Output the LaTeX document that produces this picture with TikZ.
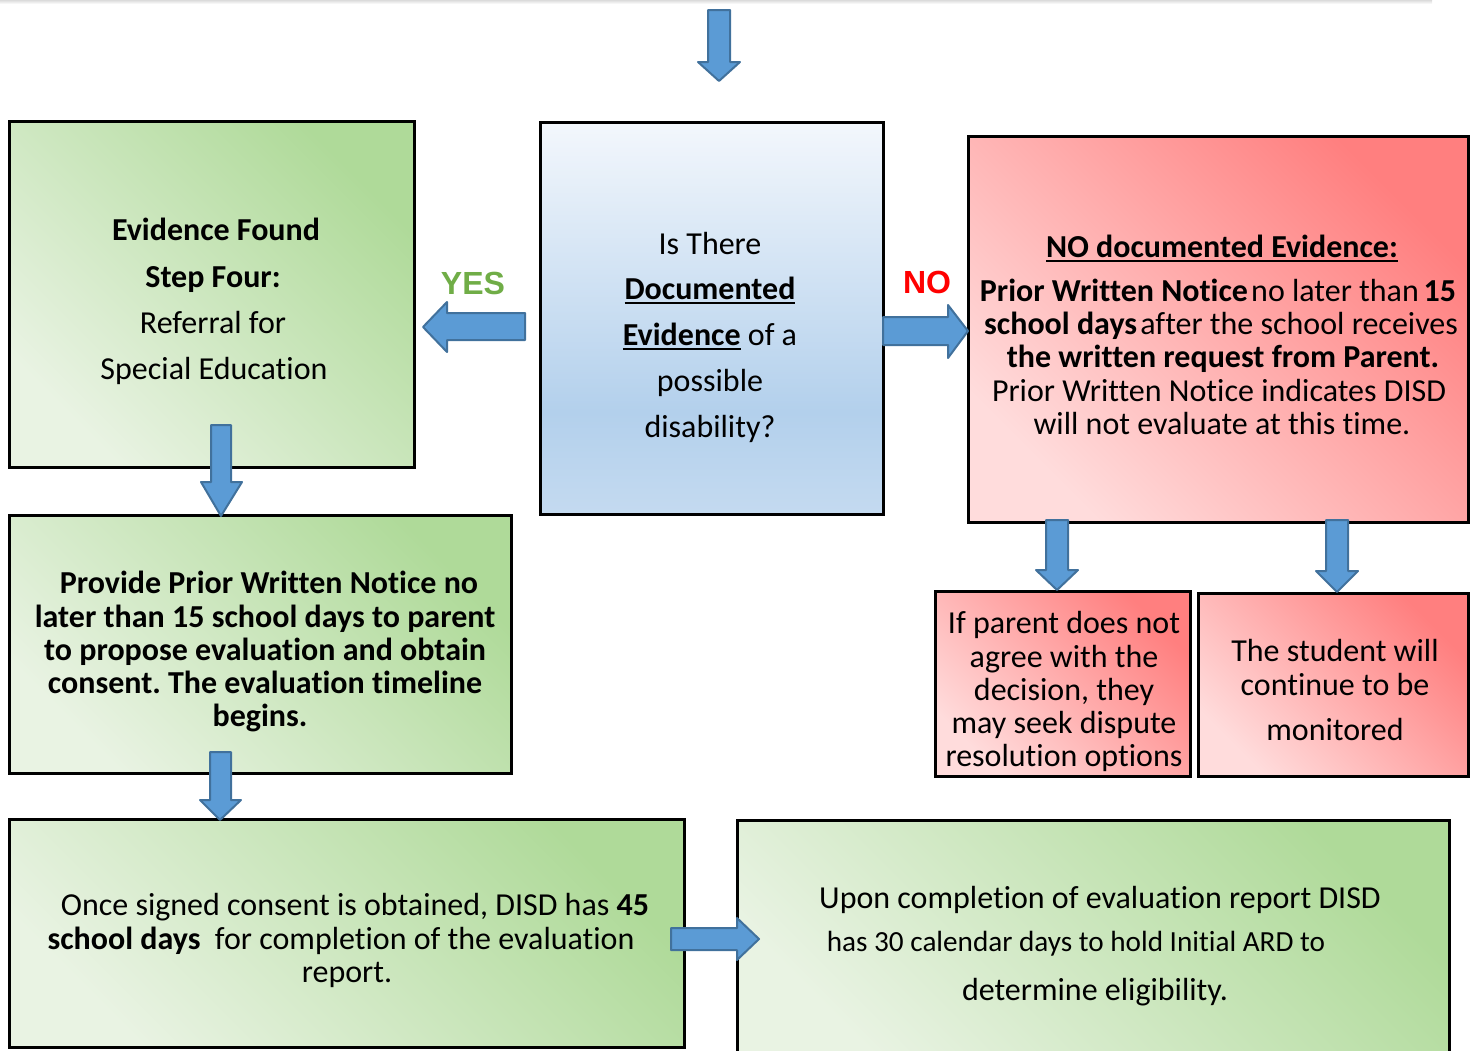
\documentclass[tikz,border=0pt]{standalone}
\usepackage{fontspec}
\setmainfont[Ligatures={NoCommon}]{Carlito}
\newfontfamily\labfont{Liberation Sans}
\frenchspacing
\usetikzlibrary{fit}
\definecolor{gLight}{HTML}{E9F3E3}
\definecolor{gDark}{HTML}{AFDA99}
\definecolor{rLight}{HTML}{FFDCDC}
\definecolor{rDark}{HTML}{FF7F7F}
\definecolor{bTop}{HTML}{F3F7FC}
\definecolor{bMid}{HTML}{B3D0EC}
\definecolor{bBot}{HTML}{C4DAF0}
\definecolor{arrowBlue}{HTML}{5B9BD5}
\definecolor{arrowEdge}{HTML}{41719C}
\definecolor{yesGreen}{HTML}{70AD47}
\definecolor{noRed}{HTML}{FF0000}
\pgfdeclareverticalshading{blueshade}{100bp}{color(0bp)=(bBot);color(25bp)=(bBot);color(38bp)=(bMid);color(75bp)=(bTop);color(100bp)=(bTop)}
\newcommand\myul[1]{\setbox0=\hbox{#1}\leavevmode\rlap{\vrule height -1.6pt depth 2.6pt width \wd0}\box0\relax}
\tikzset{
  box/.style={draw=black, line width=1.5pt, inner sep=0pt},
  gbox/.style={box, bottom color=gLight, top color=gDark, shading angle=-45},
  rbox/.style={box, bottom color=rLight, top color=rDark, shading angle=-45},
  bbox/.style={box, shading=blueshade},
  barrow/.style={fill=arrowBlue, draw=arrowEdge, line width=1pt, line join=round},
  txt/.style={anchor=base, inner sep=0pt, font=\fontsize{16}{19}\selectfont},
  lab/.style={anchor=base, inner sep=0pt, font=\labfont\fontsize{16}{19}\selectfont\bfseries},
}
\begin{document}
\begin{tikzpicture}[x=0.5pt, y=-0.5pt]
\useasboundingbox (0,0) rectangle (1477,1050);
\shade[top color=black!14, bottom color=white] (0,0) rectangle (1432,4);

% boxes
\node[gbox, fit={(9,121)(414,467)}] (g1) {};
\node[bbox, fit={(540,122)(883,514)}] (q) {};
\node[rbox, fit={(968,136)(1468,522)}] (r1) {};
\node[gbox, fit={(9,515)(511,773)}] (g2) {};
\node[rbox, fit={(935,591)(1190,776)}] (r2) {};
\node[rbox, fit={(1198,593)(1468,776)}] (r3) {};
\node[gbox, fit={(9,819)(684,1047)}] (g3) {};
\node[gbox, fit={(737,820)(1449,1060)}] (g4) {};

% arrows
\draw[barrow] (708,10) -- (730,10) -- (730,62) -- (740,62) -- (719,81) -- (698,62) -- (708,62) -- cycle;
\draw[barrow] (211,425) -- (231,425) -- (231,482) -- (242,482) -- (221,516) -- (201,482) -- (211,482) -- cycle;
\draw[barrow] (210,752) -- (231,752) -- (231,800) -- (241,800) -- (220,820) -- (200,800) -- (210,800) -- cycle;
\draw[barrow] (1046,520) -- (1068,520) -- (1068,570) -- (1078,570) -- (1057,590) -- (1036,570) -- (1046,570) -- cycle;
\draw[barrow] (1326,520) -- (1348,520) -- (1348,571) -- (1358,571) -- (1337,592) -- (1316,571) -- (1326,571) -- cycle;
\draw[barrow] (525,313) -- (525,340) -- (447,340) -- (447,352) -- (423,327) -- (447,302) -- (447,313) -- cycle;
\draw[barrow] (883,317) -- (948,317) -- (948,305) -- (968,331) -- (948,358) -- (948,345) -- (883,345) -- cycle;
\draw[barrow] (671,928) -- (737,928) -- (737,918) -- (759,939) -- (737,960) -- (737,950) -- (671,950) -- cycle;

% labels
\node[lab, text=yesGreen] (yes) at (473,294) {YES};
\node[lab, text=noRed] (no) at (927,293) {NO};

% green 1
\node[txt] (g1a) at (216,240) {\textbf{Evidence Found}};
\node[txt] (g1b) at (213,287) {\textbf{Step Four:}};
\node[txt] (g1c) at (213,333) {Referral for};
\node[txt] (g1d) at (214,379) {Special Education};

% blue
\node[txt] (qa) at (710,254) {Is There};
\node[txt] (qb) at (710,299) {\myul{\textbf{Documented}}};
\node[txt] (qc) at (710,345) {\myul{\textbf{Evidence}} of a};
\node[txt] (qd) at (710,391) {possible};
\node[txt] (qe) at (710,437) {disability?};

% red big
\node[txt] (r1a) at (1222,257) {\myul{\textbf{NO documented Evidence:}}};
\node[txt] (r1b) at (1218,301) {\textbf{Prior Written Notice}\hspace{0.1em}no later than\hspace{0.15em}\textbf{15}};
\node[txt] (r1c) at (1221,334) {\textbf{school days}\hspace{0.1em}after the school receives};
\node[txt] (r1d) at (1223,367) {\textbf{the written request from Parent.}};
\node[txt] (r1e) at (1219,401) {Prior Written Notice indicates DISD};
\node[txt] (r1f) at (1222,434) {will not evaluate at this time.};

% green 2
\node[txt] (g2a) at (269,593) {\textbf{Provide Prior Written Notice no}};
\node[txt] (g2b) at (265,627) {\textbf{later than 15 school days to parent}};
\node[txt] (g2c) at (265,660) {\textbf{to propose evaluation and obtain}};
\node[txt] (g2d) at (265,693) {\textbf{consent. The evaluation timeline}};
\node[txt] (g2e) at (260,726) {\textbf{begins.}};

% small red 1
\node[txt] (r2a) at (1064,633) {If parent does not};
\node[txt] (r2b) at (1064,667) {agree with the};
\node[txt] (r2c) at (1064,700) {decision, they};
\node[txt] (r2d) at (1064,733) {may seek dispute};
\node[txt] (r2e) at (1064,766) {resolution options};

% small red 2
\node[txt] (r3a) at (1335,661) {The student will};
\node[txt] (r3b) at (1335,695) {continue to be};
\node[txt] (r3c) at (1335,740) {monitored};

% green 3
\node[txt] (g3a) at (355,915) {Once signed consent is obtained, DISD has \textbf{45}};
\node[txt] (g3b) at (341,949) {\textbf{school days}\ \ for completion of the evaluation};
\node[txt] (g3c) at (347,982) {report.};

% green 4
\node[txt] (g4a) at (1100,908) {Upon completion of evaluation report DISD};
\node[txt, font=\fontsize{14.6}{17}\selectfont] (g4b) at (1076,951) {has 30 calendar days to hold Initial ARD to};
\node[txt] (g4c) at (1095,1000) {determine eligibility.};
\end{tikzpicture}
\end{document}
